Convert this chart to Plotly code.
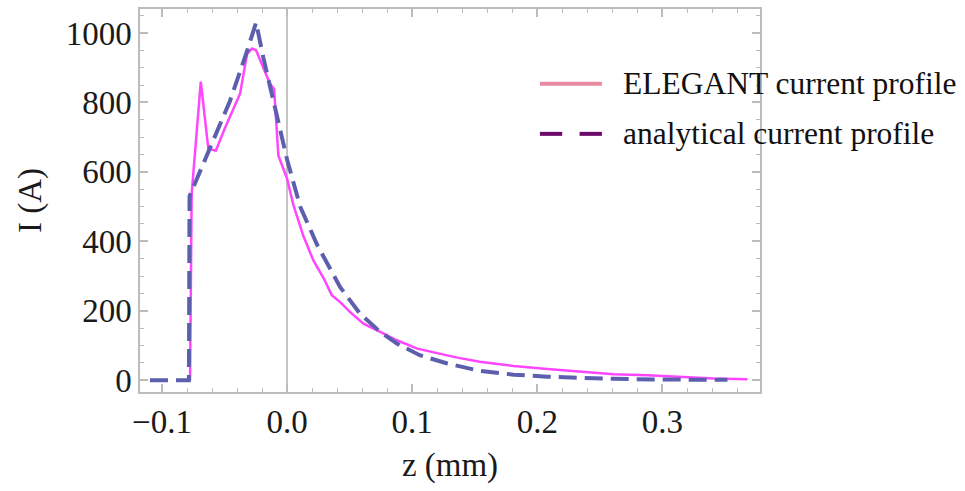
import plotly.graph_objects as go

# ELEGANT simulated current profile
z_elegant = [-0.0776, -0.0763, -0.069, -0.063, -0.057, -0.0496, -0.0376, -0.032,
             -0.028, -0.0248, -0.0136, -0.0104, -0.007, 0.0, 0.005, 0.013, 0.021,
             0.029, 0.0357, 0.0424, 0.0504, 0.061, 0.0744, 0.0877, 0.104, 0.12,
             0.136, 0.154, 0.181, 0.208, 0.234, 0.261, 0.288, 0.314, 0.341, 0.368]
i_elegant = [0, 537, 860, 667, 661, 727, 825, 940,
             955, 950, 853, 839, 647, 580, 505, 415, 345,
             295, 245, 225, 196, 163, 139, 115, 91, 77,
             65, 53, 41, 32, 24, 17, 14, 10, 5, 3]

# analytical current profile
z_analytic = [-0.1096, -0.0785, -0.078, -0.0616, -0.0456, -0.032, -0.0248, -0.019,
              -0.011, 0.0, 0.0104, 0.024, 0.0424, 0.0584, 0.0744, 0.088, 0.106,
              0.128, 0.154, 0.181, 0.208, 0.234, 0.261, 0.30, 0.352]
i_analytic = [0, 0, 530, 670, 805, 948, 1030, 929,
              805, 635, 500, 390, 268, 191, 139, 105, 72,
              48, 27, 16, 10, 6, 4, 2, 1]

legend_names = ["ELEGANT current profile", "analytical current profile"]
x_ticks = [-0.1, 0.0, 0.1, 0.2, 0.3]
x_tick_text = ["\u22120.1", "0.0", "0.1", "0.2", "0.3"]
y_ticks = [0, 200, 400, 600, 800, 1000]

serif = "Liberation Serif, Times New Roman, serif"
frame = "#bcbcbc"
ink = "#1a1a1a"

fig = go.Figure()
fig.add_trace(go.Scatter(x=z_elegant, y=i_elegant, mode="lines",
                         line=dict(color="#ff45ff", width=2.5),
                         showlegend=False))
fig.add_trace(go.Scatter(x=z_analytic, y=i_analytic, mode="lines",
                         line=dict(color="#5c5fae", width=4, dash="18px,8px"),
                         showlegend=False))

# legend drawn as line samples plus labels
legend_rows = [(0.805, "#e88aa2", "solid"), (0.674, "#6c0a6c", "dash")]
for (yp, col, style), name in zip(legend_rows, legend_names):
    if style == "solid":
        fig.add_shape(type="line", xref="paper", yref="paper",
                      x0=0.645, x1=0.745, y0=yp, y1=yp,
                      line=dict(color=col, width=4))
    else:
        for a, b in [(0.645, 0.681), (0.709, 0.745)]:
            fig.add_shape(type="line", xref="paper", yref="paper",
                          x0=a, x1=b, y0=yp, y1=yp,
                          line=dict(color=col, width=4))
    fig.add_annotation(xref="paper", yref="paper", x=0.775, y=yp,
                       xanchor="left", yanchor="middle", showarrow=False,
                       text=name, font=dict(family=serif, size=31.5, color="#111"))

fig.update_layout(
    width=965, height=491,
    margin=dict(l=140, r=205, t=7, b=99),
    paper_bgcolor="white", plot_bgcolor="white",
    font=dict(family=serif, size=33, color=ink),
    showlegend=False,
)
fig.update_xaxes(
    range=[-0.1176, 0.378], tickvals=x_ticks, ticktext=x_tick_text,
    showgrid=False, zeroline=True, zerolinecolor="#c4c4c4", zerolinewidth=2,
    showline=True, linecolor=frame, linewidth=1.5, mirror="allticks",
    ticks="inside", ticklen=8, tickcolor=frame, tickwidth=1.5,
    minor=dict(dtick=0.02, ticks="inside", ticklen=4, tickcolor=frame, tickwidth=1),
    tickfont=dict(family=serif, size=33, color=ink),
    title=dict(text="z (mm)", font=dict(family=serif, size=33, color=ink), standoff=14),
)
fig.update_yaxes(
    range=[-34, 1069], tickvals=y_ticks,
    showgrid=False, zeroline=False,
    showline=True, linecolor=frame, linewidth=1.5, mirror="allticks",
    ticks="inside", ticklen=8, tickcolor=frame, tickwidth=1.5,
    minor=dict(dtick=50, ticks="inside", ticklen=4, tickcolor=frame, tickwidth=1),
    tickfont=dict(family=serif, size=33, color=ink),
    title=dict(text="I (A)", font=dict(family=serif, size=33, color=ink), standoff=14),
)

fig.write_html("out.html")
